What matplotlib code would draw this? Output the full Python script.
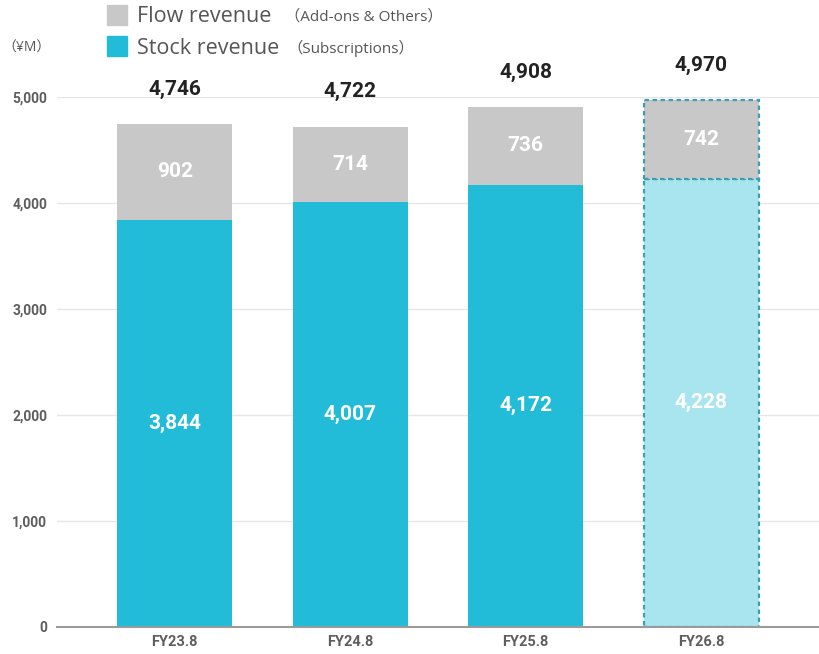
import matplotlib
matplotlib.use("Agg")
import matplotlib.pyplot as plt
from matplotlib.patches import Rectangle

# revenue split by fiscal year (¥M); last year is the forecast
years = ["FY23.8", "FY24.8", "FY25.8", "FY26.8"]
stock = [3844, 4007, 4172, 4228]
flow = [902, 714, 736, 742]
totals = [4746, 4722, 4908, 4970]
forecast = [False, False, False, True]

y_ticks = [0, 1000, 2000, 3000, 4000, 5000]

STOCK_C = "#22bcd9"
STOCK_FC = "#a8e5ef"
FLOW_C = "#c8c8c8"
EDGE_FC = "#3a9fb0"
TEXT_C = "#555555"
TICK_C = "#5e5e5e"

fig = plt.figure(figsize=(8.19, 6.54), dpi=100)
ax = fig.add_axes([57 / 819, 1 - 627 / 654, 1 - 57 / 819, (627 - 97) / 654])

x = range(len(years))
width = 0.655
for i in x:
    if forecast[i]:
        kw = dict(edgecolor=EDGE_FC, linewidth=1.6, linestyle=(0, (2, 1.6)))
        sc = STOCK_FC
    else:
        kw = dict(linewidth=0)
        sc = STOCK_C
    ax.bar(i, stock[i], width, color=sc, zorder=3, **kw)
    ax.bar(i, flow[i], width, bottom=stock[i], color=FLOW_C, zorder=3, **kw)

    ax.text(i, stock[i] / 2, f"{stock[i]:,}", ha="center", va="center",
            color="white", fontsize=15, fontweight="bold", family="Roboto", zorder=4)
    ax.text(i, stock[i] + flow[i] / 2, f"{flow[i]:,}", ha="center", va="center",
            color="white", fontsize=15, fontweight="bold", family="Roboto", zorder=4)
    ax.annotate(f"{totals[i]:,}", (i, totals[i]), xytext=(0, 25),
                textcoords="offset points", ha="center", va="center",
                color="#222222", fontsize=15, fontweight="bold", family="Roboto",
                annotation_clip=False)

ax.set_xlim(-0.67, 3.67)
ax.set_ylim(0, 5000)
ax.set_yticks(y_ticks)
ax.set_yticklabels([f"{v:,}" for v in y_ticks], fontsize=10, color=TICK_C,
                   fontweight="bold", family="Roboto")
ax.set_xticks(list(x))
ax.set_xticklabels(years, fontsize=10.5, color=TICK_C, fontweight="bold",
                   family="Roboto")
ax.tick_params(axis="both", length=0)
ax.tick_params(axis="y", pad=7)
ax.tick_params(axis="x", pad=6)
ax.grid(axis="y", color="#e6e6e6", linewidth=1, zorder=0)
for s in ["top", "right", "left"]:
    ax.spines[s].set_visible(False)
ax.spines["bottom"].set_color("#9a9a9a")
ax.spines["bottom"].set_linewidth(1.5)
ax.spines["bottom"].set_zorder(5)

# legend block at the top left
fw, fh = 819, 654
fam = ["Open Sans", "Noto Sans CJK JP"]
fig.add_artist(Rectangle((107 / fw, 1 - 25 / fh), 20 / fw, 20 / fh,
                         transform=fig.transFigure, color=FLOW_C))
fig.add_artist(Rectangle((107 / fw, 1 - 56 / fh), 20 / fw, 20 / fh,
                         transform=fig.transFigure, color=STOCK_C))
fig.text(137 / fw, 1 - 17 / fh, "Flow revenue", fontsize=15.5, color=TEXT_C,
         family=fam, va="center")
fig.text(285 / fw, 1 - 17 / fh, "（Add-ons & Others）", fontsize=11, color=TEXT_C,
         family=fam, va="center")
fig.text(137 / fw, 1 - 48 / fh, "Stock revenue", fontsize=15.5, color=TEXT_C,
         family=fam, va="center")
fig.text(287 / fw, 1 - 48 / fh, "（Subscriptions）", fontsize=11, color=TEXT_C,
         family=fam, va="center")
fig.text(2 / fw, 1 - 48 / fh, "（¥M）", fontsize=10, color=TEXT_C,
         family=fam, va="center")

fig.savefig("out.png", dpi=100)
